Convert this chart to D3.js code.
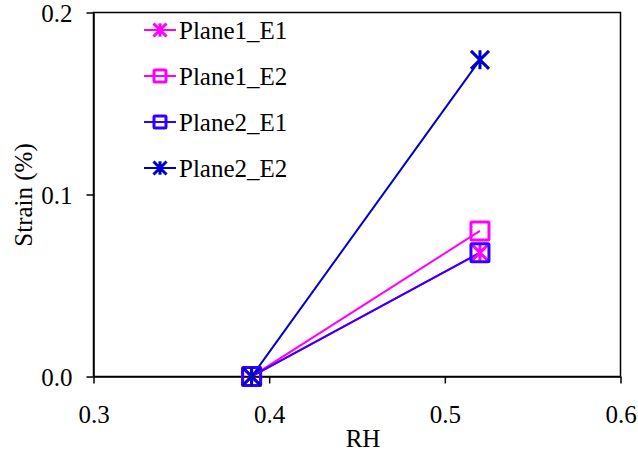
<!DOCTYPE html>
<html><head><meta charset="utf-8">
<script src="https://cdn.jsdelivr.net/npm/d3@7"></script>
<style>body{margin:0;background:#fff}svg{display:block}</style>
</head><body><svg id="c" width="638" height="454" font-family="Liberation Serif"></svg>
<script>
const seriesNames = ["Plane1_E1","Plane1_E2","Plane2_E1","Plane2_E2"];
const rhValues = [0.39, 0.52];
const plane1E1 = [0.0, 0.068];
const plane1E2 = [0.0, 0.080];
const plane2E1 = [0.0, 0.068];
const plane2E2 = [0.0, 0.174];
const xTicks = [0.3, 0.4, 0.5, 0.6];
const yTicks = [0.0, 0.1, 0.2];
const colors = ["#FF00FF","#FF00FF","#3300FF","#0000CC"];
const markers = ["star","square","square","star"];

const series = [plane1E1, plane1E2, plane2E1, plane2E2].map((v,i)=>({name:seriesNames[i], color:colors[i], marker:markers[i], pts:v.map((y,j)=>({x:rhValues[j], y}))}));

const FONT = "Liberation Serif";
const FS = 25;
const svg = d3.select("#c");
const L=93.5, R=620.5, T=12.5, B=376.5;
const x = d3.scaleLinear().domain([0.3,0.6]).range([L,R]);
const y = d3.scaleLinear().domain([0,0.2]).range([B,T]);

svg.append("rect").attr("x",L).attr("y",T).attr("width",R-L).attr("height",B-T).attr("fill","none").attr("stroke","#000").attr("stroke-width",1.5);

const xa = svg.append("g").attr("transform",`translate(0,${B})`)
  .call(d3.axisBottom(x).tickValues(xTicks).tickFormat(d3.format(".1f")).tickSize(7).tickSizeOuter(0));
const ya = svg.append("g").attr("transform",`translate(${L},0)`)
  .call(d3.axisLeft(y).tickValues(yTicks).tickFormat(d3.format(".1f")).tickSize(7).tickSizeOuter(0));
[xa,ya].forEach(a=>{a.attr("font-family",FONT).attr("font-size",FS);
  a.select(".domain").attr("stroke","#000").attr("stroke-width",1.5);
  a.selectAll(".tick line").attr("stroke","#000").attr("stroke-width",1.5);
  a.selectAll("text").attr("fill","#000").attr("font-family",FONT).attr("font-size",FS);});
xa.selectAll(".tick text").attr("dy","0").attr("y",46);
ya.selectAll(".tick text").attr("x",-21).attr("dy","0.34em");

svg.append("text").attr("x",363).attr("y",447).attr("text-anchor","middle").attr("font-family",FONT).attr("font-size",FS).text("RH");
svg.append("text").attr("transform",`translate(32,195) rotate(-90)`).attr("text-anchor","middle").attr("font-family",FONT).attr("font-size",FS).text("Strain (%)");

function drawMarker(g, type, cx, cy, size, color, sw){
  const h=size/2;
  if(type==="square"){
    g.append("rect").attr("x",cx-h).attr("y",cy-h).attr("width",size).attr("height",size).attr("rx",1)
      .attr("fill","none").attr("stroke",color).attr("stroke-width",sw);
  } else {
    const p=`M${cx-h},${cy-h}L${cx+h},${cy+h}M${cx-h},${cy+h}L${cx+h},${cy-h}M${cx},${cy-h*1.05}L${cx},${cy+h*1.05}`;
    g.append("path").attr("d",p).attr("stroke",color).attr("stroke-width",sw).attr("fill","none");
  }
}

const line = d3.line().x(d=>x(d.x)).y(d=>y(d.y));
const plot = svg.append("g");
series.forEach(s=>{
  plot.append("path").attr("d",line(s.pts)).attr("fill","none").attr("stroke",s.color).attr("stroke-width",2);
});
series.forEach(s=>{
  s.pts.forEach(p=>drawMarker(plot, s.marker, x(p.x), y(p.y), 18, s.color, 3));
});

const legY = [30, 76, 122, 168];
series.forEach((s,i)=>{
  const g = svg.append("g");
  g.append("line").attr("x1",144).attr("x2",176).attr("y1",legY[i]).attr("y2",legY[i]).attr("stroke",s.color).attr("stroke-width",2);
  drawMarker(g, s.marker, 160, legY[i], s.marker==="square"?12:13, s.color, 3);
  g.append("text").attr("x",179).attr("y",legY[i]+9).attr("font-family",FONT).attr("font-size",FS).text(s.name);
});
</script></body></html>
